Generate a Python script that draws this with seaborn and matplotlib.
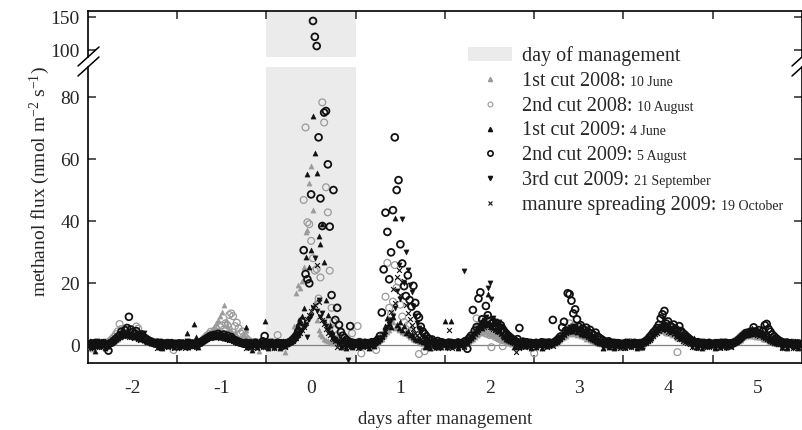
import numpy as np
import matplotlib
matplotlib.use("Agg")
import matplotlib.pyplot as plt
import seaborn as sns
from matplotlib.lines import Line2D
from matplotlib.patches import Patch

# ---------------- data: half-hourly methanol flux, days -2 .. 5 (48 values per day) ----------------
cut1_2008 = [
 0.4, 0.2, 0.6, 0.1, 0.3, 0.5, 0.0, 0.4, 0.7, 0.2, 0.3, -0.4,
 0.5, 0.8, 1.2, 1.6, 2.1, 2.5, 3.0, 3.4, 3.9, 4.2, 3.6, 4.4,
 3.8, 3.1, 3.5, 2.8, 2.4, 2.9, 2.0, 1.6, 1.8, 1.2, 0.9, 1.1,
 0.6, 0.8, 0.3, 0.5, 0.2, 0.4, 0.1, 0.3, 0.6, 0.2, 0.0, 0.4,
 0.3, 0.5, 0.1, 0.4, 0.2, 0.6, 0.3, -0.2, 0.4, 0.5, 0.1, 0.3,
 0.8, 1.1, 1.5, 2.0, 2.6, 3.2, 4.0, 4.8, 5.9, 7.1, 8.0, 9.5,
 10.6, 12.9, 8.0, 6.5, 5.2, 4.8, 3.6, 4.1, 2.9, 2.2, 1.8, 2.5,
 3.1, 4.8, 1.5, 0.3, 0.4, 0.1, 0.5, 0.2, -1.8, 0.0, 0.4, 0.6,
 0.3, 0.1, 0.5, 0.2, 0.4, 0.0, 0.3, 0.6, 0.2, 0.4, -2.2, 0.5,
 0.9, 1.4, 2.0, 6.0, 16.9, 19.3, 18.5, 20.6, 25.3, 36.5, 37.0, 52.4,
 57.7, 43.5, 14.0, 8.0, 5.0, 3.5, 2.8, 2.0, 1.6, 1.2, 0.9, 0.7,
 1.0, 0.6, 0.8, 0.3, 0.5, 0.2, 0.4, 0.0, 0.3, 0.5, 0.1, 0.2,
 0.4, 0.2, 0.5, 0.1, 0.3, 0.6, 0.2, 0.4, 0.0, 0.3, 0.5, 0.7,
 1.0, 1.5, 2.1, 2.8, 3.5, 4.2, 5.0, 6.1, 7.3, 5.6, 6.8, 4.9,
 5.5, 4.2, 3.8, 4.5, 3.1, 2.6, 2.9, 2.0, 1.5, 1.7, 1.1, 0.8,
 0.6, 0.9, 0.4, 0.2, 0.5, 0.3, 0.1, 0.4, 0.2, 0.6, 0.3, 0.0,
 0.3, 0.5, 0.2, 0.4, 0.1, 0.3, 0.6, 0.2, 0.4, 0.0, 0.5, 0.3,
 0.7, 1.1, 1.6, 2.0, 2.6, 3.1, 3.6, 4.2, 3.8, 4.8, 4.1, 3.5,
 4.4, 3.2, 3.7, 2.8, 2.3, 2.6, 1.9, 1.5, 1.2, 1.4, 0.8, 0.6,
 0.4, 0.7, 0.2, 0.5, 0.3, 0.1, 0.4, 0.2, 0.6, 0.3, 0.1, 0.4,
 0.2, 0.4, 0.1, 0.5, 0.3, 0.0, 0.4, 0.2, 0.6, 0.3, 0.1, 0.5,
 0.8, 1.2, 1.5, 2.2, 2.7, 3.0, 3.5, 3.9, 4.3, 3.6, 4.0, 3.3,
 3.7, 2.9, 3.2, 2.5, 2.1, 2.4, 1.7, 1.3, 1.0, 1.2, 0.7, 0.5,
 0.3, 0.6, 0.1, 0.4, 0.2, 0.5, 0.0, 0.3, 0.4, 0.1, 0.5, 0.2,
 0.4, 0.1, 0.3, 0.5, 0.2, 0.4, 0.0, 0.3, 0.5, 0.2, 0.4, 0.6,
 0.9, 1.3, 1.8, 2.4, 3.0, 3.6, 4.1, 4.7, 5.2, 4.5, 5.0, 4.2,
 4.6, 3.8, 3.3, 3.6, 2.7, 2.2, 2.5, 1.8, 1.4, 1.1, 0.9, 0.6,
 0.5, 0.3, 0.6, 0.2, 0.4, 0.1, 0.3, 0.5, 0.2, 0.4, 0.0, 0.3,
 0.3, 0.5, 0.2, 0.0, 0.4, 0.3, 0.6, 0.1, 0.3, 0.5, 0.2, 0.4,
 0.6, 0.9, 1.3, 1.7, 2.2, 2.6, 3.0, 3.4, 2.9, 3.6, 3.1, 2.7,
 3.3, 2.5, 2.8, 2.1, 1.8, 2.0, 1.4, 1.1, 0.9, 0.7, 0.5, 0.4,
 0.6, 0.2, 0.4, 0.1, 0.3, 0.5, 0.2, 0.0, 0.4, 0.3, 0.1, 0.2,
]

cut2_2008 = [
 0.5, 0.2, -1.1, 0.4, 0.7, 0.3, 0.1, 0.6, 0.4, 0.8, 0.5, 0.9,
 1.4, 2.0, 2.6, 3.5, 4.4, 6.8, 5.2, 3.9, 4.6, 3.2, 4.1, 3.0,
 3.6, 4.2, 6.0, 5.3, 2.8, 3.1, 2.2, 1.9, 1.5, 1.0, 1.3, 0.7,
 0.6, 0.9, 0.4, 0.3, 0.7, 0.2, 0.5, 0.8, 0.3, 0.1, -1.6, 0.4,
 0.4, 0.6, 0.2, 0.5, 0.1, 0.3, 0.7, 0.4, 0.2, 0.5, 0.3, 0.6,
 0.9, 1.3, 1.8, 2.4, 3.0, 3.5, 4.3, 3.8, 4.6, 5.2, 4.1, 5.8,
 6.3, 5.0, 7.0, 6.4, 9.7, 10.2, 9.3, 6.1, 7.2, 5.4, 3.8, 4.4,
 2.9, 2.2, 1.6, 1.1, 0.8, 0.5, 0.9, 0.3, 0.6, 0.2, 0.4, 0.7,
 0.3, 0.6, 0.2, 0.4, 0.8, 0.1, 3.2, 0.5, 0.3, 0.7, 0.4, 0.2,
 0.8, 1.2, 1.9, 2.5, 3.0, 3.5, 5.0, 8.0, 46.8, 70.2, 39.6, 39.0,
 33.6, 28.0, 24.0, 24.5, 15.0, 21.8, 78.3, 71.8, 50.9, 42.8, 24.0, 12.0,
 7.5, 5.0, 3.2, 2.1, 1.4, 0.9, 0.6, 0.4, 1.2, 0.3, 3.8, 0.5,
 0.6, 6.1, 1.1, -2.7, 0.4, 0.8, 0.2, 0.5, 1.0, 0.3, 0.7, -1.6,
 1.2, 1.8, 2.5, 3.4, 15.6, 26.5, 12.0, 9.9, 14.0, 25.8, 18.5, 20.4,
 13.0, 9.2, 7.4, 5.1, 6.3, 3.8, 4.5, 2.7, 1.9, 3.0, -2.9, 1.2,
 0.8, -2.0, 1.5, 0.4, 0.9, -0.8, 0.6, 1.3, 0.2, 0.7, 0.4, 0.9,
 0.5, 0.2, 0.8, 0.4, 0.1, 0.6, 0.3, 0.9, 0.5, 0.2, 0.7, 1.0,
 1.4, 1.9, 2.6, 3.5, 4.8, 8.6, 5.9, 6.8, 4.4, 5.5, 3.7, 4.9,
 3.2, -0.7, 4.0, 2.6, 3.3, 2.1, 1.7, -0.4, 2.4, 1.5, 1.0, 1.3,
 0.7, 1.1, 0.4, 0.8, 0.2, 0.6, 0.9, 0.3, -0.3, 0.5, 0.1, 0.4,
 -2.7, 0.5, 0.2, 0.6, 0.3, 0.8, 0.1, 0.4, 0.7, 0.2, 0.5, 0.9,
 1.3, 1.8, 2.4, 3.1, 3.9, 4.6, 5.2, 7.0, 4.8, 6.1, 5.5, 4.2,
 5.0, 3.6, 4.4, 3.0, 3.5, 2.4, 2.8, 1.9, 2.2, 1.4, 1.0, 1.6,
 0.8, 0.5, 1.1, 0.3, 0.7, 0.2, 0.6, 0.4, 0.0, 0.5, -0.7, 0.7,
 0.4, 0.7, 0.2, 0.5, 0.9, 0.3, 0.6, 0.1, 0.4, 0.8, -0.7, 0.5,
 1.0, 1.5, 2.1, 2.8, 3.6, 4.3, 5.1, 4.6, 5.6, 4.9, 5.3, 4.0,
 4.7, 3.9, 4.2, 3.5, 5.4, -2.3, 3.0, 2.6, 2.0, 1.7, 1.3, 0.9,
 0.7, 1.1, 0.4, -0.6, 0.8, 0.2, 0.5, 0.3, 0.7, 0.1, 0.4, 0.6,
 0.5, 0.2, 0.6, 0.3, 0.8, 0.4, 0.1, 0.5, 0.7, 0.2, 0.6, 0.9,
 1.2, 1.6, 2.1, 2.7, 3.2, 3.8, 3.4, 4.1, 3.6, 4.5, 3.0, 3.9,
 3.3, 2.8, 3.5, 2.4, 2.0, 2.6, 1.7, 1.4, 1.8, 1.1, 0.8, 1.2,
 0.6, 0.9, 0.3, 0.7, 0.4, 0.2, 0.6, 0.8, 0.3, 0.5, 0.1, 0.4,
]

cut1_2009 = [
 0.3, 1.2, -0.6, 0.4, -1.8, 0.9, -0.3, 0.7, 1.3, -0.8, 0.5, -0.2,
 0.6, 0.9, 1.4, 1.9, 2.5, 3.1, 2.8, 3.6, 3.3, 4.0, 3.5, 2.9,
 3.2, 2.6, 2.9, 2.2, 1.8, 2.3, 1.6, 1.2, 1.4, 0.9, 0.7, 1.0,
 0.4, 1.4, -0.5, 0.5, -0.9, 0.3, 1.1, -0.4, 0.8, 0.0, -0.7, 0.5,
 0.2, -0.7, 1.1, -0.4, 0.9, 4.0, -0.6, 1.2, 0.3, 6.7, 2.6, -0.5,
 0.8, 1.2, 1.6, 2.1, 2.5, 2.9, 3.3, 2.8, 3.5, 3.0, 3.4, 2.7,
 3.1, 2.4, 2.8, 2.2, 1.9, 2.3, 1.6, 1.3, 1.0, 1.2, 0.8, 0.6,
 0.9, 5.7, -0.6, 1.1, -1.6, 0.3, 1.3, -0.7, 0.4, 1.0, -0.4, 7.8,
 0.4, -0.8, 1.2, 0.3, -0.5, 1.0, 0.2, -0.9, 0.6, 1.3, -0.3, 0.6,
 0.9, 1.3, 2.0, 3.1, 4.6, 6.2, 8.0, 9.5, 12.0, 28.5, 55.2, 25.3,
 30.6, 73.9, 62.0, 55.4, 35.2, 32.6, 39.0, 26.9, 14.5, 9.8, 6.5, 4.2,
 3.0, 2.1, 1.5, 1.0, -0.6, 1.3, 0.6, -0.8, 1.1, 0.3, -0.5, 0.9,
 0.3, 1.2, -0.7, 0.5, -0.4, 1.1, 0.7, -0.9, 0.5, 1.4, -0.2, 0.9,
 1.4, 2.0, 2.9, 4.1, 6.0, 8.6, 7.2, 5.8, 9.0, 41.0, 6.4, 5.4,
 7.5, 4.8, 6.1, 3.9, 4.4, 3.2, 3.6, 2.5, 2.0, 1.6, 1.9, 1.2,
 0.9, -0.6, 1.1, 0.4, -0.8, 1.3, 0.8, -0.5, 0.5, 1.2, -0.7, 0.3,
 7.8, -0.6, 1.2, 7.8, -0.3, 0.9, 0.7, -0.8, 1.1, 0.6, -0.4, 0.8,
 1.1, 1.6, 2.3, 3.0, 3.8, 4.5, 5.3, 6.1, 5.6, 7.0, 6.4, 16.5,
 6.8, 5.9, 7.3, 5.2, 4.6, 5.0, 3.8, 3.1, 2.5, 2.0, 1.6, 1.3,
 0.9, -0.7, 1.3, 0.7, -0.5, 0.5, 1.2, -0.2, 0.1, 1.0, -0.8, 0.5,
 0.3, -0.6, 1.1, 0.4, -0.9, 1.2, 0.5, -0.4, 0.0, 1.3, 0.7, 0.9,
 1.2, 1.7, 2.3, 2.9, 3.5, 4.2, 4.8, 4.4, 5.1, 4.6, 5.5, 4.1,
 4.8, 3.7, 4.3, 3.3, 3.9, 2.8, 2.4, 2.0, 1.6, 1.3, 1.0, 0.8,
 0.6, -0.8, 1.2, 0.1, -0.5, 1.0, 0.6, -0.9, 1.3, 0.0, -0.4, 0.8,
 0.4, -0.7, 1.3, 0.3, -0.4, 1.1, 0.4, -0.8, 0.9, 0.5, -0.6, 0.8,
 1.1, 1.6, 2.2, 2.8, 3.4, 4.1, 4.9, 5.6, 6.3, 5.8, 6.9, 5.5,
 6.1, 5.0, 5.4, 4.4, 3.9, 3.5, 2.9, 2.4, 2.8, 1.9, 1.5, 1.8,
 1.2, 0.9, 2.2, -0.6, 1.7, 0.4, -0.9, 1.1, 0.6, -0.4, 1.2, 0.3,
 0.3, -0.8, 1.1, 0.5, -0.5, 1.2, 0.3, -0.6, 0.9, 0.5, -0.3, 0.8,
 1.0, 1.4, 2.0, 2.6, 3.2, 3.8, 4.3, 5.0, 4.6, 5.4, 4.1, 4.8,
 3.9, 3.4, 3.7, 2.9, 2.5, 2.2, 1.8, 1.5, 1.2, 1.0, 0.8, 0.6,
 0.5, -0.7, 1.3, 0.2, -0.9, 1.0, 0.3, -0.4, 1.2, 0.4, -0.8, 0.3,
]

cut2_2009 = [
 0.4, 0.1, 0.5, 0.3, 0.6, 0.2, 0.4, 0.0, 0.5, 0.3, 0.1, -1.8,
 0.6, 0.9, 1.5, 2.0, 2.6, 3.1, 4.3, 3.6, 4.8, 5.5, 9.1, 5.0,
 4.2, 3.7, 4.5, 3.3, 2.9, 3.4, 2.5, 2.1, 1.7, 1.3, 1.0, 0.8,
 0.5, 0.7, 0.3, 0.6, 0.2, 0.4, 0.1, 0.5, 0.3, 0.6, 0.2, 0.4,
 0.3, 0.5, 0.2, 0.4, 0.0, 0.3, 0.6, 0.2, 0.5, 0.1, 0.4, 0.3,
 0.7, 1.0, 1.4, 1.8, 2.2, 2.6, 3.0, 2.7, 3.3, 2.9, 3.6, 3.1,
 2.8, 3.4, 2.5, 3.0, 2.2, 2.6, 1.9, 1.6, 1.3, 1.0, 0.8, 0.6,
 0.4, 0.7, 0.3, 0.5, 0.2, 0.4, 0.6, 0.1, 0.3, 0.5, 1.2, 2.9,
 0.2, 0.5, 0.3, 0.6, 0.1, 0.4, 0.7, 0.3, 0.5, 0.2, 0.4, 0.6,
 0.8, 1.1, 1.6, 2.2, 3.0, 4.3, 5.9, 7.5, 30.6, 22.9, 21.2, 19.9,
 48.6, 144.0, 120.0, 106.0, 67.0, 47.3, 38.4, 75.0, 75.5, 58.3, 38.2, 16.1,
 50.0, 8.1, 12.0, 6.5, 4.2, 3.0, 2.3, 1.7, 1.2, 6.1, 0.8, 0.5,
 0.6, 0.3, 0.8, 0.4, 0.2, 0.7, 0.1, 0.5, 0.3, 0.9, 0.6, 1.2,
 1.8, 2.9, 10.5, 24.4, 42.7, 36.5, 21.2, 29.9, 43.5, 67.0, 50.0, 53.2,
 32.5, 26.3, 19.0, 15.8, 22.5, 14.5, 12.4, 19.1, 13.6, 9.7, 8.9, 5.9,
 4.4, 3.6, 2.8, 2.1, 1.5, 1.8, 1.0, 0.7, 1.3, 0.4, 0.9, 0.6,
 0.5, 0.2, 0.7, 0.3, 0.6, 0.1, 0.4, 0.8, 0.3, 0.5, 0.9, 1.3,
 -1.2, 2.2, 3.0, 11.3, 4.6, 5.8, 15.0, 17.0, 8.3, 7.1, 12.6, 9.6,
 7.8, 6.9, 7.4, 6.2, 7.0, 5.8, 6.4, 5.1, 4.3, 3.6, 3.0, 2.5,
 2.0, 1.6, 1.2, 1.9, 5.5, 0.8, 1.1, 0.5, 0.9, 0.3, 0.7, 0.4,
 0.4, 0.7, 0.2, 0.5, 0.9, 0.3, 0.6, 0.1, 0.8, 0.4, 8.1, 1.0,
 1.4, 2.0, 2.7, 5.7, 7.5, 4.6, 16.7, 16.4, 14.3, 10.2, 11.5, 8.3,
 5.9, 6.4, 5.3, 4.8, 5.6, 4.2, 4.9, 3.7, 3.2, 4.0, 2.8, 2.3,
 1.9, 1.5, 1.1, 0.8, 1.2, 0.5, 0.3, 0.7, 0.2, 0.6, 0.4, 0.1,
 0.3, 0.6, 0.2, 0.5, 0.1, 0.4, 0.7, 0.3, 0.5, 0.2, 0.6, 0.9,
 1.3, 1.8, 2.5, 3.2, 4.0, 4.6, 5.5, 6.5, 8.6, 9.9, 11.0, 6.9,
 7.6, 6.2, 5.8, 6.6, 5.1, 4.7, 6.1, 4.5, 3.8, 3.3, 2.7, 2.2,
 1.7, 1.3, 1.0, 0.7, 0.9, 0.4, 0.6, 0.2, 0.5, 0.3, 0.7, 0.1,
 0.4, 0.2, 0.6, 0.3, 0.5, 0.1, 0.4, 0.7, 0.2, 0.5, 0.3, 0.6,
 0.9, 1.2, 1.7, 2.2, 2.8, 3.3, 3.9, 3.5, 4.2, 3.8, 5.7, 4.4,
 4.0, 4.8, 3.6, 4.5, 6.4, 6.8, 5.2, 4.3, 3.4, 2.8, 2.2, 1.7,
 1.3, 1.0, 0.7, 0.5, 0.8, 0.3, 0.6, 0.2, 0.4, 0.1, 0.5, 0.3,
]

cut3_2009 = [
 0.2, -0.8, 1.1, 0.0, -0.5, 1.3, 0.2, -0.6, 0.9, 0.3, -0.9, 0.4,
 0.7, 1.0, 1.5, 1.9, 2.4, 2.8, 3.3, 2.9, 3.6, 3.2, 2.7, 3.5,
 3.0, 2.5, 2.8, 2.1, 3.2, 1.6, 3.8, 1.4, 1.1, 0.8, 1.0, 0.6,
 0.4, -0.6, 1.2, 0.5, -0.8, 0.9, 0.4, -0.4, 1.1, 0.5, -0.7, 0.0,
 0.4, -0.9, 1.0, 0.1, -0.6, 1.2, 0.2, -0.5, 0.8, 0.5, -0.8, 0.6,
 0.8, 1.2, 1.7, 2.1, 2.6, 3.0, 2.7, 3.4, 3.1, 2.8, 3.3, 2.6,
 3.0, 2.3, 2.7, 2.0, 1.7, 2.1, 1.5, 1.2, 0.9, 1.1, 0.7, 0.5,
 0.3, -0.7, 1.1, 0.4, -0.9, 0.5, 1.2, -0.3, 0.6, 0.4, -0.6, 1.0,
 0.3, -0.5, 1.2, 0.6, -0.8, 0.4, 1.1, 0.7, -0.6, 0.5, 1.0, 0.6,
 0.9, 1.2, 1.6, 2.1, 2.6, 3.2, 4.0, 4.9, 5.8, 6.6, 2.7, 8.5,
 9.4, 12.0, 28.0, 11.1, 14.5, 9.0, 10.2, 7.5, 6.0, 4.8, 3.9, 3.1,
 2.4, 1.8, 1.3, 1.0, -0.7, 1.2, 0.8, -0.5, -4.8, 0.4, 1.1, -0.6,
 0.2, -0.7, 1.3, 0.6, -0.4, 1.0, 0.7, -0.8, 0.5, 1.2, -0.3, 0.8,
 1.2, 1.7, 2.4, 3.2, 4.5, 5.6, 6.8, 8.0, 9.5, 12.0, 17.4, 25.8,
 15.0, 40.5, 20.0, 30.0, 24.2, 19.5, 17.0, 12.5, 9.5, 7.2, 5.4, 4.1,
 3.0, 2.2, 1.6, -0.5, 1.2, 0.6, -0.7, 0.7, 1.1, -0.5, 0.2, 0.9,
 0.3, -0.8, 1.2, 0.5, -0.5, 0.4, 1.1, -0.6, 0.5, 0.2, 23.9, 0.8,
 1.2, 1.7, 2.3, 3.0, 3.8, 4.6, 5.5, 6.4, 7.2, 8.0, 9.1, 18.3,
 20.1, 15.0, 8.6, 7.8, 6.9, 7.4, 6.2, 5.5, 4.8, 4.0, 3.3, 2.7,
 2.1, 1.6, -0.6, 1.2, 0.6, -0.8, 0.4, 1.1, -0.5, 0.3, 0.9, 0.1,
 0.4, -0.6, 1.1, 0.3, -0.9, 0.6, 1.2, -0.4, 0.5, 0.3, 0.7, 0.9,
 1.3, 1.8, 2.4, 3.1, 3.7, 4.4, 5.1, 5.8, 5.3, 6.0, 5.5, 4.9,
 5.2, 4.6, 4.1, 4.5, 3.8, 3.3, 2.9, 2.5, 2.1, 1.7, 1.4, 1.1,
 0.8, -0.7, 1.0, 0.5, -0.5, 1.2, 0.1, -0.8, 0.9, 0.2, -0.4, 0.0,
 0.3, -0.8, 1.2, 0.4, -0.5, 0.6, 1.1, -0.6, 0.0, 0.9, -0.3, 0.7,
 1.0, 1.5, 2.1, 2.8, 3.5, 4.2, 4.9, 5.6, 6.2, 8.3, 6.8, 6.1,
 5.7, 5.2, 4.6, 5.0, 4.2, 3.7, 3.2, 2.8, 2.3, 1.9, 1.5, 1.2,
 0.9, -0.6, 1.1, 0.7, -0.9, 0.5, 1.3, -0.4, 0.4, 0.8, -0.7, 0.3,
 0.4, -0.7, 1.0, 0.3, -0.6, 1.3, 0.6, -0.8, 0.5, 1.1, -0.4, 0.7,
 0.9, 1.3, 1.8, 2.3, 2.8, 3.3, 3.7, 4.2, 3.9, 4.5, 4.1, 3.6,
 4.0, 3.5, 3.1, 3.4, 2.8, 2.4, 2.0, 1.7, 1.4, 1.1, 0.9, 0.7,
 0.5, -0.8, 1.2, 0.2, -0.5, 1.0, 0.3, -0.9, 1.1, 0.4, -0.6, 0.3,
]

manure_2009 = [
 0.3, -0.9, 1.2, 0.2, -0.5, 1.0, 0.3, -0.7, 1.3, 0.4, -0.4, 0.5,
 0.7, 1.0, 1.4, 1.8, 2.2, 2.7, 3.1, 2.8, 3.4, 3.0, 2.6, 3.2,
 2.9, 2.4, 2.7, 2.0, 1.7, 2.1, 1.5, 1.2, 0.9, 1.1, 0.7, 0.5,
 0.3, -0.8, 1.1, 0.4, -0.6, 1.3, 0.5, -0.5, 0.9, 0.0, -0.8, 0.1,
 0.2, -0.6, 1.1, 0.3, -0.9, 1.2, 0.4, -0.4, 0.8, 0.6, -0.7, 0.4,
 0.6, 0.9, 1.3, 1.7, 2.1, 2.5, 2.9, 2.6, 3.1, 2.7, 3.0, 2.4,
 2.8, 2.2, 2.5, 1.9, 1.6, 2.0, 1.4, 1.1, 0.8, 1.0, 0.6, 0.4,
 0.2, -0.8, 1.1, 0.3, -0.5, 1.2, 0.4, -0.9, 0.8, 0.5, -0.6, 0.0,
 0.3, -0.7, 1.2, 0.4, -0.8, 0.6, 1.1, -0.5, 0.2, 1.3, -0.6, 0.3,
 0.6, 0.9, 1.3, 1.8, 2.4, 3.1, 3.9, 4.8, 5.9, 7.0, 8.4, 9.6,
 11.0, 12.2, 12.9, 25.8, 14.0, 9.5, 8.1, 6.8, 5.2, 4.0, 3.1, 2.4,
 1.8, 1.3, -0.6, 0.7, 1.1, -0.7, 0.6, 1.2, -0.4, -0.5, 0.9, 0.1,
 0.4, -0.8, 1.1, 0.3, -0.6, 1.2, 0.4, -0.9, 0.5, 1.0, -0.3, 0.9,
 1.3, 1.9, 2.6, 3.5, 4.6, 6.0, 8.0, 10.5, 18.0, 13.5, 22.0, 24.2,
 16.0, 20.4, 20.7, 12.8, 10.4, 8.3, 6.6, 5.2, 4.0, 3.1, 2.4, 1.8,
 1.4, 1.0, -0.7, 0.5, 1.2, -0.6, 0.2, 1.1, -0.8, 0.3, 0.9, 0.2,
 0.6, -0.7, 4.8, 0.4, -0.8, 1.1, 0.3, -0.5, 0.9, 0.4, -0.6, 0.9,
 1.2, 1.6, 2.2, 2.9, 3.6, 4.3, 5.0, 5.7, 6.4, 5.9, 7.1, 6.3,
 5.8, 6.6, 5.2, 4.7, 5.3, 4.1, 3.6, 3.0, 2.5, 2.1, 1.7, 1.3,
 1.0, 0.7, -2.1, 0.5, -0.7, 1.2, 0.2, -0.6, 1.0, 0.3, -0.5, 0.2,
 0.3, -0.6, 1.2, 0.4, -0.9, 1.0, 0.6, -0.5, 0.4, 1.3, -0.3, 0.8,
 1.1, 1.5, 2.0, 2.6, 3.2, 3.8, 4.3, 4.9, 4.5, 5.2, 4.7, 4.1,
 4.4, 3.9, 3.5, 3.8, 3.1, 2.7, 2.3, 1.9, 1.6, 1.3, 1.0, 0.8,
 0.6, -0.8, 1.1, 0.5, -0.7, 1.2, 0.4, -0.5, 0.9, 0.3, -0.9, 0.4,
 0.2, -0.9, 1.1, 0.5, -0.6, 1.3, 0.4, -0.7, 0.6, 1.0, -0.4, 0.5,
 0.8, 1.2, 1.7, 2.3, 2.9, 3.5, 4.0, 4.6, 5.1, 4.7, 5.4, 4.9,
 4.3, 3.8, 4.2, 3.4, 2.9, 2.5, 2.1, 1.8, 1.4, 1.1, 0.8, 0.6,
 0.4, -0.6, 1.2, 0.5, -0.8, 0.9, 0.6, -0.5, 1.1, 0.0, -0.7, 0.5,
 0.4, -0.7, 1.2, 0.5, -0.8, 1.0, 0.0, -0.5, 1.3, 0.2, -0.6, 0.8,
 1.0, 1.4, 1.8, 2.3, 2.7, 3.2, 3.6, 3.1, 3.8, 3.4, 4.0, 3.5,
 3.2, 2.8, 3.3, 2.6, 2.2, 1.9, 1.6, 1.3, 1.0, 0.8, 0.6, 0.4,
 0.3, -0.9, 1.1, 0.4, -0.6, 1.2, 0.6, -1.0, 0.8, 0.4, -0.7, 0.3,
]

series_labels = ["1st cut 2008:", "2nd cut 2008:", "1st cut 2009:",
                 "2nd cut 2009:", "3rd cut 2009:", "manure spreading 2009:"]
series_dates = ["10 June", "10 August", "4 June", "5 August", "21 September", "19 October"]
first_day = -2.5          # start of record (midnight before day -2)
samples_per_day = 48      # half-hourly data
x_tick_days = [-2, -1, 0, 1, 2, 3, 4, 5]
y_ticks_low = [0, 20, 40, 60, 80]
y_ticks_high = [100, 150]

all_series = [cut1_2008, cut2_2008, cut1_2009, cut2_2009, cut3_2009, manure_2009]
for s in all_series:
    assert len(s) == 384, len(s)

# ---------------- styling ----------------
sns.set_theme(style="ticks")
plt.rcParams['font.family'] = ['Liberation Serif', 'DejaVu Serif']
plt.rcParams['mathtext.fontset'] = 'custom'
plt.rcParams['mathtext.rm'] = 'Liberation Serif'
plt.rcParams['mathtext.it'] = 'Liberation Serif:italic'
plt.rcParams['axes.unicode_minus'] = False

GRAY = '#9a9a9a'
BLACK = '#111111'
BAND = '#ebebeb'

styles = [
    dict(marker='^', s=14, color=GRAY, edgecolor=GRAY, linewidth=0.3),
    dict(marker='o', s=24, facecolor='none', edgecolor=GRAY, linewidth=0.9),
    dict(marker='^', s=14, color=BLACK, edgecolor=BLACK, linewidth=0.3),
    dict(marker='o', s=24, facecolor='none', edgecolor=BLACK, linewidth=1.3),
    dict(marker='v', s=14, color=BLACK, edgecolor=BLACK, linewidth=0.3),
    dict(marker='x', s=12, color=BLACK, edgecolor=BLACK, linewidth=0.8),
]

W, H = 803, 430
fig = plt.figure(figsize=(W / 100, H / 100), dpi=100)
ax_lo = fig.add_axes([88 / W, 1 - 363 / H, 714 / W, 296 / H])
ax_hi = fig.add_axes([88 / W, 1 - 57 / H, 714 / W, 46 / H])

for ax in (ax_lo, ax_hi):
    ax.axvspan(-0.5, 0.5, color=BAND, lw=0, zorder=0)
    for vals, st in zip(all_series, styles):
        days = first_day + np.arange(len(vals)) / samples_per_day
        sns.scatterplot(x=days, y=np.asarray(vals), ax=ax, legend=False, zorder=3, **st)
    ax.set_xlim(-2.5, 5.5)
    ax.set_xlabel('')
    ax.set_ylabel('')
    for sp in ax.spines.values():
        sp.set_linewidth(1.2)
        sp.set_color('black')

ax_lo.axhline(0, color='#808080', lw=0.9, zorder=1)
ax_lo.set_ylim(-5.8, 89.7)
ax_hi.set_ylim(89.4, 159.1)

ax_lo.spines['top'].set_visible(False)
ax_hi.spines['bottom'].set_visible(False)

TICK_FS = 14
# lower axes ticks
ax_lo.set_xticks(x_tick_days)
ax_lo.set_xticklabels([str(d) for d in x_tick_days])
ax_lo.set_xticks(np.array(x_tick_days[:-1]) + 0.5, minor=True)
ax_lo.tick_params(axis='x', which='major', length=0, pad=12, labelsize=TICK_FS)
ax_lo.tick_params(axis='x', which='minor', direction='in', length=6, width=1.1,
                  bottom=True, top=False)
ax_lo.set_yticks(y_ticks_low)
ax_lo.tick_params(axis='y', which='major', direction='in', length=6, width=1.1,
                  left=True, right=True, labelsize=TICK_FS, pad=6)

# upper axes ticks
ax_hi.set_xticks([])
ax_hi.set_xticks(np.array(x_tick_days[:-1]) + 0.5, minor=True)
ax_hi.tick_params(axis='x', which='minor', direction='in', length=6, width=1.1,
                  bottom=False, top=True, labelbottom=False)
ax_hi.set_yticks(y_ticks_high)
ax_hi.tick_params(axis='y', which='major', direction='in', length=6, width=1.1,
                  left=True, right=True, labelsize=TICK_FS, pad=6)

# axis labels
fig.text(445 / W, 1 - 419 / H, 'days after management', ha='center', va='center',
         fontsize=13.5)
fig.text(40 / W, 1 - 182 / H, r'methanol flux (nmol m$^{-2}$ s$^{-1}$)',
         rotation=90, ha='center', va='center', fontsize=14)

# axis-break marks
for xs in (88, 802):
    for dy in (0, 10):
        fig.add_artist(Line2D([(xs - 10) / W, (xs + 11) / W],
                              [1 - (66 + dy) / H, 1 - (47 + dy) / H],
                              transform=fig.transFigure, color='black', lw=1.1,
                              zorder=10))

# legend
handles = [Patch(facecolor=BAND, edgecolor='none'),
           Line2D([], [], ls='none', marker='^', ms=3, color=GRAY, mec=GRAY),
           Line2D([], [], ls='none', marker='o', ms=3.5, mfc='none', mec=GRAY, mew=0.8),
           Line2D([], [], ls='none', marker='^', ms=3, color=BLACK, mec=BLACK),
           Line2D([], [], ls='none', marker='o', ms=3.8, mfc='none', mec=BLACK, mew=1.2),
           Line2D([], [], ls='none', marker='v', ms=3, color=BLACK, mec=BLACK),
           Line2D([], [], ls='none', marker='x', ms=3, color=BLACK, mec=BLACK, mew=0.8)]
labels = ['day of management'] + series_labels
leg = fig.legend(handles, labels, loc='upper left',
                 bbox_to_anchor=(468 / W, 1 - 46 / H), frameon=False,
                 fontsize=14.5, handlelength=2.2, handleheight=0.65,
                 handletextpad=0.5, labelspacing=0.29, borderpad=0,
                 borderaxespad=0)

fig.canvas.draw()
renderer = fig.canvas.get_renderer()
for txt, date in zip(leg.get_texts()[1:], series_dates):
    bb = txt.get_window_extent(renderer)
    fp = txt.get_fontproperties()
    _, _, d = renderer.get_text_width_height_descent('lp', fp, ismath=False)
    baseline = bb.y0 + d
    fig.text((bb.x1 + 4) / W, baseline / H, date, fontsize=10,
             ha='left', va='baseline')

fig.savefig('out.png', dpi=100)
